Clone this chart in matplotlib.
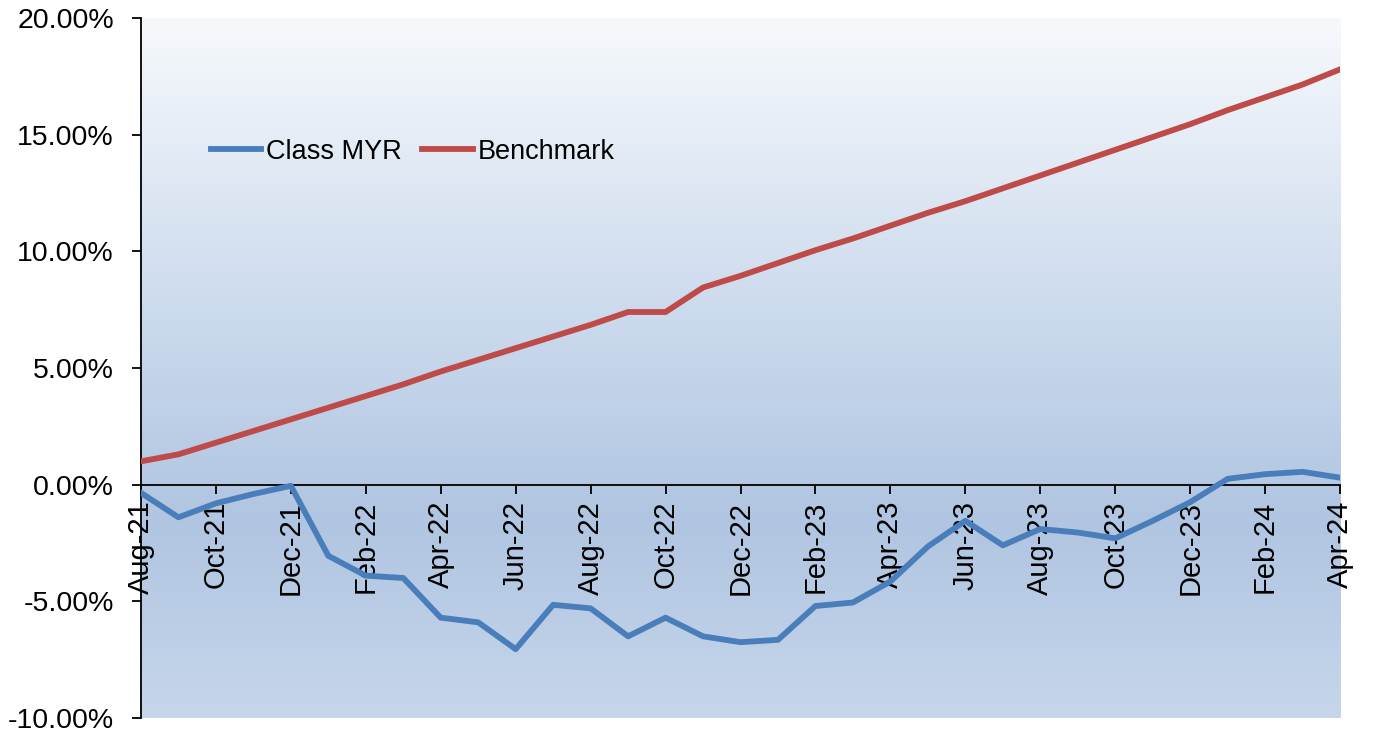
import matplotlib.pyplot as plt
import numpy as np
import pandas as pd
from matplotlib.colors import LinearSegmentedColormap

plt.rcParams['font.family'] = ['Liberation Sans', 'DejaVu Sans']

months = pd.date_range('2021-08-01', periods=33, freq='MS').strftime('%b-%y').tolist()

class_myr = [-0.35, -1.4, -0.8, -0.4, -0.05, -3.05, -3.9, -4.0, -5.7, -5.9, -7.05,
             -5.15, -5.3, -6.5, -5.7, -6.5, -6.75, -6.65, -5.2, -5.05, -4.15, -2.65,
             -1.55, -2.6, -1.9, -2.05, -2.3, -1.55, -0.75, 0.25, 0.45, 0.55, 0.3]
benchmark = [1.0, 1.3, 1.8, 2.3, 2.8, 3.3, 3.8, 4.3, 4.85, 5.35, 5.85,
             6.35, 6.85, 7.4, 7.4, 8.45, 8.95, 9.5, 10.05, 10.55, 11.1, 11.65,
             12.15, 12.7, 13.25, 13.8, 14.35, 14.9, 15.45, 16.05, 16.6, 17.15, 17.8]

x = np.arange(len(months))

fig = plt.figure(figsize=(13.74, 7.38), dpi=100)
ax = fig.add_axes([0.1026, 0.0271, 0.8727, 0.9485])

# gradient fill behind the plot area
cmap = LinearSegmentedColormap.from_list('bg', [(0.0, '#f6f9fc'), (0.45, '#c9d8ec'),
                                                (0.72, '#b0c5e1'), (1.0, '#c6d6eb')])
grad = np.linspace(0, 1, 256).reshape(-1, 1)
ax.imshow(grad, cmap=cmap, aspect='auto', extent=[x[0], x[-1], -10, 20],
          origin='upper', zorder=0)

ax.plot(x, class_myr, color='#4a7ebb', lw=4.2, label='Class MYR', zorder=3)
ax.plot(x, benchmark, color='#be4b48', lw=4.2, label='Benchmark', zorder=3)

ax.set_xlim(x[0], x[-1])
ax.set_ylim(-10, 20)
ax.set_yticks(np.arange(-10, 21, 5))
ax.set_yticklabels([f'{v:.2f}%' for v in np.arange(-10, 21, 5)])
ax.set_xticks(x[::2])
ax.set_xticklabels(months[::2])

ax.spines['top'].set_visible(False)
ax.spines['right'].set_visible(False)
ax.spines['bottom'].set_position(('data', 0))
ax.spines['bottom'].set_linewidth(1.3)
ax.spines['left'].set_linewidth(1.3)
ax.spines['bottom'].set_zorder(2)
ax.tick_params(axis='y', direction='out', length=6.5, width=1.3, pad=13, labelsize=20.5)
ax.tick_params(axis='x', direction='out', length=6.5, width=1.3, pad=5, labelsize=21,
               labelrotation=90)
for lbl in ax.get_xticklabels():
    lbl.set_va('top')
    lbl.set_ha('center')

ax.legend(loc='center left', bbox_to_anchor=(0.038, 0.809), ncol=2, frameon=False,
          fontsize=19.5, handlelength=1.85, handletextpad=0.2, columnspacing=0.75)

fig.savefig('out.png', dpi=100)
